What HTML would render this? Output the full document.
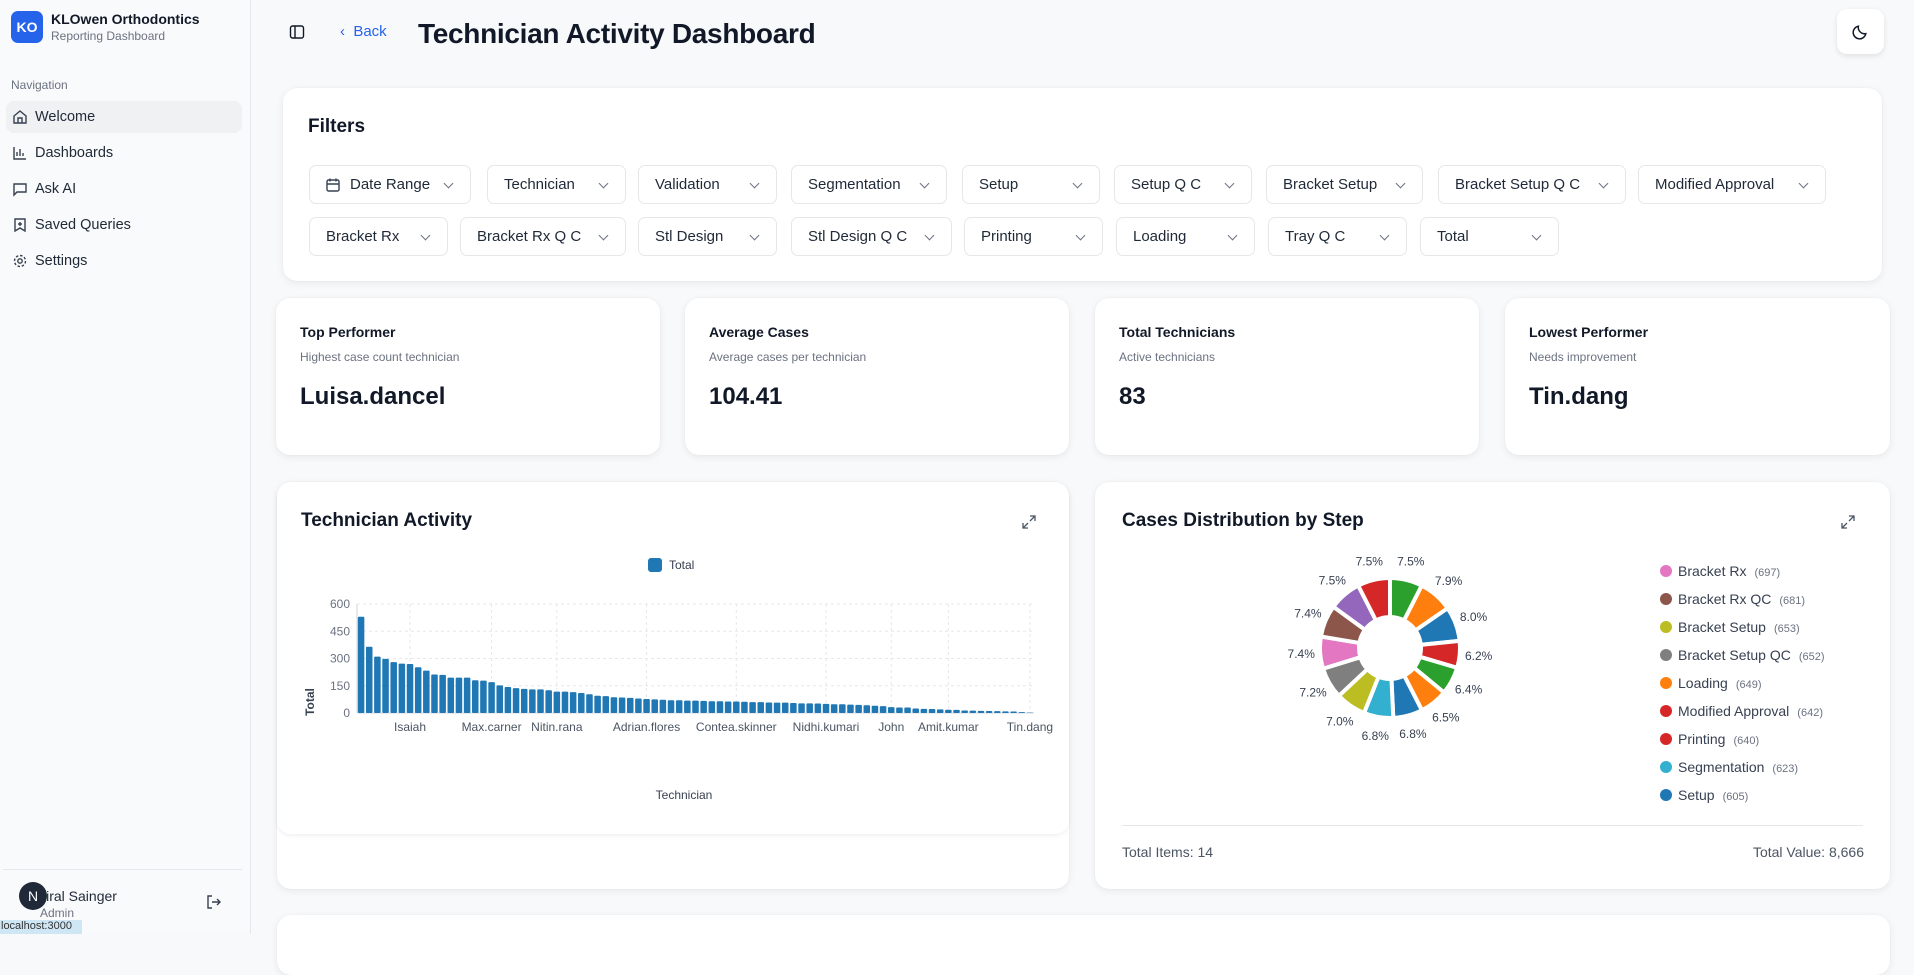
<!DOCTYPE html>
<html><head><meta charset="utf-8">
<style>
*{box-sizing:border-box;margin:0;padding:0}
body{width:1914px;height:934px;overflow:hidden;background:#f8f9fb;font-family:"Liberation Sans",sans-serif;color:#111827;position:relative}
.abs{position:absolute}
.side{left:0;top:0;width:251px;height:934px;background:#f9fafb;border-right:1px solid #e5e7eb}
.nav{position:absolute;left:6px;width:236px;height:32px;border-radius:8px;display:flex;align-items:center;padding-left:29px;font-size:14.5px;color:#1f2937}
.nav svg{position:absolute;left:6px;top:8px}
.card{position:absolute;background:#fff;border-radius:14px;box-shadow:0 2px 8px rgba(0,0,0,.07),0 0 1px rgba(0,0,0,.08)}
.fb{position:absolute;height:39px;border:1px solid #e5e7eb;border-radius:7px;background:#fff;font-size:15px;color:#1f2937;display:flex;align-items:center;padding-left:16px}
.fb::after{content:"";position:absolute;right:18px;top:14px;width:6px;height:6px;border-right:1.5px solid #6b7280;border-bottom:1.5px solid #6b7280;transform:rotate(45deg)}
.kt{position:absolute;left:24px;top:26px;font-size:14px;font-weight:bold;color:#111827}
.ks{position:absolute;left:24px;top:52px;font-size:12px;color:#6b7280}
.kv{position:absolute;left:24px;top:85px;font-size:24px;font-weight:bold;color:#111827}
.ct{position:absolute;font-size:19px;font-weight:bold;color:#111827}
</style></head><body>
<div class="abs side">
  <div class="abs" style="left:11px;top:11px;width:32px;height:32px;border-radius:7px;background:#2563eb;color:#fff;font-weight:bold;font-size:14px;display:flex;align-items:center;justify-content:center">KO</div>
  <div class="abs" style="left:51px;top:11px;font-size:14px;font-weight:bold;color:#111827">KLOwen Orthodontics</div>
  <div class="abs" style="left:51px;top:29px;font-size:12px;color:#6b7280">Reporting Dashboard</div>
  <div class="abs" style="left:11px;top:78px;font-size:12px;color:#6b7280">Navigation</div>
  <div class="nav" style="top:101px;background:#f0f1f3"><svg width="16" height="16" viewBox="0 0 16 16" fill="none" stroke="#374151" stroke-width="1.4"><path d="M2 7l6-5 6 5v7H2z M6 14V9h4v5"/></svg>Welcome</div>
  <div class="nav" style="top:137px"><svg width="16" height="16" viewBox="0 0 16 16" fill="none" stroke="#374151" stroke-width="1.4"><path d="M2 2v12h12M5 11V7M8 11V4M11 11V8"/></svg>Dashboards</div>
  <div class="nav" style="top:173px"><svg width="16" height="16" viewBox="0 0 16 16" fill="none" stroke="#374151" stroke-width="1.4"><path d="M2 3h12v8H5l-3 3z"/></svg>Ask AI</div>
  <div class="nav" style="top:209px"><svg width="16" height="16" viewBox="0 0 16 16" fill="none" stroke="#374151" stroke-width="1.4"><path d="M3 2h10v12l-5-3-5 3z M8 5v4M6 7h4"/></svg>Saved Queries</div>
  <div class="nav" style="top:245px"><svg width="16" height="16" viewBox="0 0 16 16" fill="none" stroke="#374151" stroke-width="1.4"><circle cx="8" cy="8" r="2.2"/><circle cx="8" cy="8" r="5.5" stroke-dasharray="2.5 1.8"/></svg>Settings</div>
  <div class="abs" style="left:3px;top:869px;width:239px;height:1px;background:#e5e7eb"></div>
  <div class="abs" style="left:36px;top:888px;font-size:14px;color:#1f2937">Niral Sainger</div>
  <div class="abs" style="left:40px;top:906px;font-size:12px;color:#6b7280">Admin</div>
  <div class="abs" style="left:19px;top:882px;width:28px;height:28px;border-radius:50%;background:#1f2937;color:#fff;font-size:14px;display:flex;align-items:center;justify-content:center">N</div>
  <svg class="abs" style="left:206px;top:894px" width="16" height="16" viewBox="0 0 16 16" fill="none" stroke="#374151" stroke-width="1.4"><path d="M6 2H2v12h4M6 8h8M11 5l3 3-3 3"/></svg>
  <div class="abs" style="left:0;top:920px;width:82px;height:14px;background:#cfe6f5;font-size:11px;color:#333;padding-left:1px">localhost:3000</div>
</div>

<svg class="abs" style="left:289px;top:24px" width="16" height="16" viewBox="0 0 16 16" fill="none" stroke="#111827" stroke-width="1.4"><rect x="1.5" y="2" width="13" height="12" rx="2"/><path d="M6 2v12"/></svg>
<div class="abs" style="left:340px;top:23px;font-size:15px;color:#2563eb">&#8249;&nbsp;&nbsp;Back</div>
<div class="abs" style="left:418px;top:18px;font-size:28px;font-weight:bold;color:#111827;letter-spacing:-0.3px">Technician Activity Dashboard</div>
<div class="abs" style="left:1837px;top:9px;width:47px;height:45px;border-radius:10px;background:#fff;box-shadow:0 2px 6px rgba(0,0,0,.1)"><svg style="position:absolute;left:15px;top:14px" width="17" height="17" viewBox="0 0 16 16" fill="none" stroke="#111827" stroke-width="1.4"><path d="M13 10A6 6 0 0 1 6 3a6 6 0 1 0 7 7z"/></svg></div>

<div class="card" style="left:283px;top:88px;width:1599px;height:193px">
  <div class="abs" style="left:25px;top:28px;font-size:19px;font-weight:bold">Filters</div>
</div>
<div class="fb" style="left:309px;top:165px;width:162px;padding-left:40px"><svg style="position:absolute;left:15px;top:11px" width="16" height="16" viewBox="0 0 16 16" fill="none" stroke="#374151" stroke-width="1.4"><rect x="2" y="3" width="12" height="11" rx="1.5"/><path d="M2 7h12M5 1.5v3M11 1.5v3"/></svg>Date Range</div>
<div class="fb" style="left:487px;top:165px;width:139px">Technician</div>
<div class="fb" style="left:638px;top:165px;width:139px">Validation</div>
<div class="fb" style="left:791px;top:165px;width:156px">Segmentation</div>
<div class="fb" style="left:962px;top:165px;width:138px">Setup</div>
<div class="fb" style="left:1114px;top:165px;width:138px">Setup Q C</div>
<div class="fb" style="left:1266px;top:165px;width:157px">Bracket Setup</div>
<div class="fb" style="left:1438px;top:165px;width:188px">Bracket Setup Q C</div>
<div class="fb" style="left:1638px;top:165px;width:188px">Modified Approval</div>
<div class="fb" style="left:309px;top:217px;width:139px">Bracket Rx</div>
<div class="fb" style="left:460px;top:217px;width:166px">Bracket Rx Q C</div>
<div class="fb" style="left:638px;top:217px;width:139px">Stl Design</div>
<div class="fb" style="left:791px;top:217px;width:161px">Stl Design Q C</div>
<div class="fb" style="left:964px;top:217px;width:139px">Printing</div>
<div class="fb" style="left:1116px;top:217px;width:139px">Loading</div>
<div class="fb" style="left:1268px;top:217px;width:139px">Tray Q C</div>
<div class="fb" style="left:1420px;top:217px;width:139px">Total</div>

<div class="card" style="left:276px;top:298px;width:384px;height:157px"><div class="kt">Top Performer</div><div class="ks">Highest case count technician</div><div class="kv">Luisa.dancel</div></div>
<div class="card" style="left:685px;top:298px;width:384px;height:157px"><div class="kt">Average Cases</div><div class="ks">Average cases per technician</div><div class="kv">104.41</div></div>
<div class="card" style="left:1095px;top:298px;width:384px;height:157px"><div class="kt">Total Technicians</div><div class="ks">Active technicians</div><div class="kv">83</div></div>
<div class="card" style="left:1505px;top:298px;width:385px;height:157px"><div class="kt">Lowest Performer</div><div class="ks">Needs improvement</div><div class="kv">Tin.dang</div></div>

<div class="card" style="left:277px;top:482px;width:792px;height:407px"></div>
<div class="card" style="left:277px;top:482px;width:792px;height:352px;box-shadow:0 2px 5px rgba(0,0,0,.06)">
  <div class="ct" style="left:24px;top:28px">Technician Activity</div>
  <svg class="abs" style="left:744px;top:32px" width="16" height="16" viewBox="0 0 16 16" fill="none" stroke="#4b5563" stroke-width="1.3"><path d="M9 2h5v5M14 2l-5 5M7 14H2V9M2 14l5-5"/></svg>
</div>
<svg class="abs" id="bar" style="left:277px;top:540px" width="792" height="280"></svg>

<div class="card" style="left:1095px;top:482px;width:795px;height:407px">
  <div class="ct" style="left:27px;top:28px">Cases Distribution by Step</div>
  <svg class="abs" style="left:745px;top:32px" width="16" height="16" viewBox="0 0 16 16" fill="none" stroke="#4b5563" stroke-width="1.3"><path d="M9 2h5v5M14 2l-5 5M7 14H2V9M2 14l5-5"/></svg>
  <div class="abs" style="left:27px;top:343px;width:741px;height:1px;background:#e5e7eb"></div>
  <div class="abs" style="left:27px;top:362px;font-size:14px;color:#4b5563">Total Items: 14</div>
  <div class="abs" style="right:26px;top:362px;font-size:14px;color:#4b5563">Total Value: 8,666</div>
</div>
<svg class="abs" id="donut" style="left:1095px;top:540px" width="795" height="290"></svg>

<div class="card" style="left:277px;top:915px;width:1613px;height:60px"></div>

<script>
const NS="http://www.w3.org/2000/svg";
function mk(p,t,a){const e=document.createElementNS(NS,t);for(const k in a)e.setAttribute(k,a[k]);p.appendChild(e);return e;}
// ---- bar chart data ----
const barValues=[530,365,310,298,280,272,270,252,233,212,210,195,195,195,180,178,170,152,143,137,133,130,130,125,118,118,115,110,103,95,93,87,85,83,80,77,75,73,70,70,68,68,67,65,65,63,63,62,60,60,58,57,57,55,53,53,52,50,48,48,46,45,43,40,38,32,30,30,25,23,22,20,18,17,14,13,12,11,10,9,8,5,2];
const tickLabels=["Isaiah","Max.carner","Nitin.rana","Adrian.flores","Contea.skinner","Nidhi.kumari","John","Amit.kumar","Tin.dang"];
const tickIndex=[6,16,24,35,46,57,65,72,82];
const yTicks=[0,150,300,450,600];
const bar=document.getElementById('bar');
const X0=80,X1=757,Y0=173,YT=64;
const bw=(X1-X0)/barValues.length;
const xs=i=>X0+bw*(i+0.5);
const ys=v=>Y0-(v/600)*(Y0-YT);
yTicks.forEach(t=>{
  const l=mk(bar,'line',{x1:X0,x2:X1,y1:ys(t),y2:ys(t),stroke:t?'#e5e7eb':'#d1d5db','stroke-dasharray':t?'3 3':''});
  
  const tx=mk(bar,'text',{x:X0-7,y:ys(t)+4,'text-anchor':'end','font-size':12,fill:'#6b7280'});
  tx.textContent=t;
});
tickIndex.forEach((idx,k)=>{
  const l=mk(bar,'line',{x1:xs(idx),x2:xs(idx),y1:YT,y2:Y0,stroke:'#e5e7eb','stroke-dasharray':'3 3'});
  
  const tx=mk(bar,'text',{x:xs(idx),y:Y0+18,'text-anchor':'middle','font-size':12,fill:'#4b5563'});
  tx.textContent=tickLabels[k];
});
mk(bar,'line',{x1:X0,x2:X0,y1:YT,y2:Y0,stroke:'#d1d5db'});
barValues.forEach((v,i)=>{
  const r=mk(bar,'rect',{x:xs(i)-bw*0.4,y:ys(v),width:bw*0.8,height:Y0-ys(v),fill:'#1f77b4',rx:1});
  
});
const lg=mk(bar,'rect',{x:371,y:18,width:14,height:14,rx:3,fill:'#1f77b4'});

const lt=mk(bar,'text',{x:392,y:29,'font-size':12,fill:'#374151'});lt.textContent='Total';

const yt=mk(bar,'text',{x:0,y:0,'font-size':12,'font-weight':'bold',fill:'#374151','text-anchor':'middle',transform:'translate(37,162) rotate(-90)'});yt.textContent='Total';

const xt=mk(bar,'text',{x:407,y:259,'font-size':12,fill:'#374151','text-anchor':'middle'});xt.textContent='Technician';


// ---- donut data ----
const slicePct=[7.5,7.9,8.0,6.2,6.4,6.5,6.8,6.8,7.0,7.2,7.4,7.4,7.5,7.5];
const sliceColors=['#2ca02c','#ff7f0e','#1f77b4','#d62728','#2ca02c','#ff7f0e','#1f77b4','#33afd0','#bcbd22','#7f7f7f','#e377c2','#8c564b','#9467bd','#d62728'];
const legendNames=['Bracket Rx','Bracket Rx QC','Bracket Setup','Bracket Setup QC','Loading','Modified Approval','Printing','Segmentation','Setup'];
const legendValues=[697,681,653,652,649,642,640,623,605];
const legendColors=['#e377c2','#8c564b','#bcbd22','#7f7f7f','#ff7f0e','#d62728','#d62728','#33afd0','#1f77b4'];
const dn=document.getElementById('donut');
const cx=295,cy=108,R=70,r0=31;
const tot=slicePct.reduce((a,b)=>a+b,0);
let a=0;
const P=(ang,rad)=>[cx+rad*Math.sin(ang),cy-rad*Math.cos(ang)];
slicePct.forEach((p,i)=>{
  const a0=a,a1=a+p/tot*2*Math.PI;a=a1;
  const [x0,y0]=P(a0,R),[x1,y1]=P(a1,R),[x2,y2]=P(a1,r0),[x3,y3]=P(a0,r0);
  const s=mk(dn,'path',{d:`M${x0},${y0}A${R},${R} 0 0 1 ${x1},${y1}L${x2},${y2}A${r0},${r0} 0 0 0 ${x3},${y3}Z`,fill:sliceColors[i],stroke:'#fff','stroke-width':4});
  
  const [lx,ly]=P((a0+a1)/2,R+19);
  const t=mk(dn,'text',{x:lx,y:ly+4,'text-anchor':'middle','font-size':12,fill:'#374151'});t.textContent=p.toFixed(1)+'%';
  
});
legendNames.forEach((n,i)=>{
  const y=31+i*28;
  const c=mk(dn,'circle',{cx:571,cy:y,r:6,fill:legendColors[i]});
  
  const t=mk(dn,'text',{x:583,y:y+5,'font-size':14,fill:'#374151'});
  
  const s1=mk(t,'tspan',{});s1.textContent=n;
  const s2=mk(t,'tspan',{dx:8,'font-size':11,fill:'#6b7280'});s2.textContent='('+legendValues[i]+')';
});
</script>
</body></html>
